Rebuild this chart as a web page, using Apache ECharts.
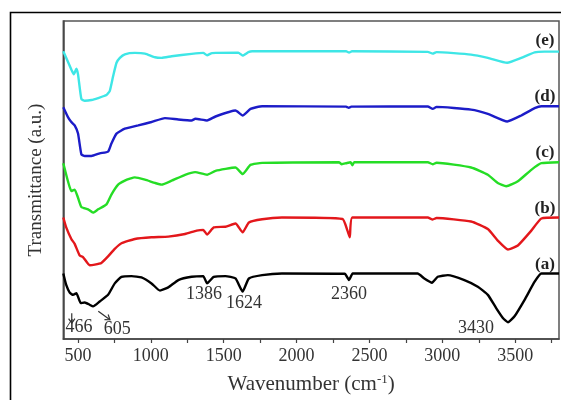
<!DOCTYPE html>
<html>
<head>
<meta charset="utf-8">
<script src="https://cdn.jsdelivr.net/npm/echarts@6/dist/echarts.min.js"></script>
<style>html,body{margin:0;padding:0;background:#fff}#c{width:561px;height:400px}</style>
</head>
<body>
<div id="c"></div>
<script>
// Wavenumber (cm-1) and transmittance (arbitrary units, offset) for each spectrum
var wnA = [400,420,444,467,490,520,547,581,604,650,707,753,799,868,936,1005,1063,1120,1189,1280,1360,1386,1432,1512,1581,1630,1673,1764,1900,2330,2360,2385,2830,2876,2929,2968,3037,3151,3243,3312,3369,3415,3450,3495,3564,3633,3679,3800];
var tA  = [66.3,54.7,47,44.7,46.3,36.3,37,34.7,33,38,44.7,56.3,63,63.7,62.3,56.3,49,52.3,59.7,63,63.7,56.3,63,63.7,61.3,48,61.3,64.7,66.3,66,59.7,66.3,66.3,61.3,57,63,64.7,59.7,53,44.7,31.3,21.3,17,23,39.7,58,66.3,66.3];

var wnB = [400,420,455,478,512,535,581,616,661,707,753,799,891,1005,1120,1235,1315,1360,1386,1432,1512,1581,1630,1673,1764,1900,2315,2349,2365,2383,2900,2934,2960,3197,3312,3380,3450,3518,3610,3679,3800];
var tB  = [123,113,101.3,96.3,84.7,83,74.7,75.3,77,83.7,91.3,97,101.3,103,103.7,106.3,109.7,110.5,105.7,113,113.7,117,108,118,121.3,123,121.5,109.7,103,123,123,121,122.5,119,111.3,99.7,90.7,94.7,109.7,122,123];

var wnC = [400,432,455,478,501,524,570,604,639,696,730,776,822,857,891,960,1029,1074,1143,1235,1304,1386,1444,1581,1630,1684,1764,2290,2310,2340,2370,2383,2395,2900,2934,2960,3197,3312,3380,3438,3518,3610,3679,3800];
var tC  = [178,159.7,149.7,151.3,143,133.7,131.3,128,131.3,136.3,146.3,156.3,160.3,162.3,163.7,161.3,158,156.3,160.3,166.3,169,166.3,170.3,173.7,167,176.3,178.3,179,177,178,179,176,179,179,177,178.5,173.7,166.3,158,154.7,159.7,171.3,178,179];

var wnD = [400,432,455,478,501,524,547,593,650,707,730,765,822,914,1005,1097,1189,1280,1306,1386,1444,1581,1630,1684,1764,2340,2358,2375,2900,2934,2960,3197,3312,3445,3541,3633,3679,3800];
var tD  = [234.7,224.7,219.7,216.3,208,187,185.3,185.3,188,189.7,198,208,213,216.3,219.7,223.7,222.3,221.3,223,221.3,225.3,231.3,226.3,233,235.7,235.3,234,235.3,235.5,233,235,232.3,228,220.3,226.3,233.7,235.7,235.7];

var wnE = [400,455,472,490,501,524,547,593,639,696,719,742,765,788,822,891,960,1029,1074,1143,1280,1360,1386,1420,1600,1630,1670,1696,2340,2360,2380,2900,2934,2960,3197,3312,3445,3541,3633,3700,3800];
var tE  = [291.3,273,268,273.7,268,243,241.3,242,244,247,251.3,266.3,279.7,284.7,288.3,289.7,289,285.3,284.7,286.3,288.7,289.7,287.3,289.5,290,287,290.5,291.3,291.3,290,291.3,290.7,289,290.5,288,284.7,279.7,284.7,290.3,291,291];

var seriesNames  = ['(a)','(b)','(c)','(d)','(e)'];
var seriesColors = ['#000000','#e3171b','#25dd25','#1c1cc8','#3ee6e6'];
var seriesWn = [wnA,wnB,wnC,wnD,wnE];
var seriesT  = [tA,tB,tC,tD,tE];

// curve labels position (wavenumber, transmittance)
var curveLabelWn = 3704;
var curveLabelT  = [75.7,132.3,189,245.7,302.3];

// peak annotations
var peakText = ['466','605','1386','1624','2360','3430'];
var peakWn   = [508,770,1365,1639,2359,3230];
var peakT    = [12,9.5,45,36,45,11];

var majorTicks = [500,1000,1500,2000,2500,3000,3500];
var allTicks = [500,750,1000,1250,1500,1750,2000,2250,2500,2750,3000,3250,3500,3750];

function pairs(xs, ys){ var o=[]; for(var i=0;i<xs.length;i++) o.push([xs[i],ys[i]]); return o; }

var chart = echarts.init(document.getElementById('c'));
var series = seriesNames.map(function(n,i){
  return {
    name:n, type:'line', data:pairs(seriesWn[i],seriesT[i]),
    showSymbol:false, smooth:0.15, silent:true, animation:false,
    lineStyle:{color:seriesColors[i], width:2.4}, itemStyle:{color:seriesColors[i]}
  };
});

chart.setOption({
  animation:false,
  grid:{left:63.3, right:2, top:21, bottom:57, show:true, borderColor:'#555', borderWidth:1.5, backgroundColor:'transparent'},
  xAxis:{
    type:'value', min:400, max:3800,
    name:'{a|Wavenumber (cm}{s|-1}{a|)}', nameLocation:'middle', nameGap:34,
    nameTextStyle:{rich:{
      a:{fontFamily:'Liberation Serif', fontSize:21, color:'#333'},
      s:{fontFamily:'Liberation Serif', fontSize:13, color:'#333', verticalAlign:'top', padding:[0,0,10,0]}
    }},
    axisLine:{show:true, onZero:false, lineStyle:{color:'#444', width:1.5}},
    axisTick:{show:true, inside:false, length:4, customValues:allTicks, lineStyle:{color:'#444', width:1.2}},
    axisLabel:{customValues:majorTicks, formatter:function(v){return String(v);}, fontFamily:'Liberation Serif', fontSize:18, color:'#333', margin:8},
    splitLine:{show:false}
  },
  yAxis:{
    type:'value', min:0, max:322,
    name:'Transmittance (a.u.)', nameLocation:'middle', nameGap:18, nameRotate:90,
    nameTextStyle:{fontFamily:'Liberation Serif', fontSize:19, color:'#333'},
    axisLine:{show:true, lineStyle:{color:'#444', width:1.5}},
    axisTick:{show:false}, axisLabel:{show:false}, splitLine:{show:false}
  },
  series:series
});

var g = [];
g.push({type:'rect', shape:{x:10.5,y:12.5,width:620,height:500}, style:{fill:'none', stroke:'#000', lineWidth:1.6}, silent:true});
for (var i=0;i<seriesNames.length;i++){
  var p = chart.convertToPixel({gridIndex:0},[curveLabelWn, curveLabelT[i]]);
  g.push({type:'text', x:p[0], y:p[1], silent:true,
    style:{text:seriesNames[i], fill:'#222', font:'bold 17px "Liberation Serif"', align:'center', verticalAlign:'middle'}});
}
for (var j=0;j<peakText.length;j++){
  var q = chart.convertToPixel({gridIndex:0},[peakWn[j], peakT[j]]);
  g.push({type:'text', x:q[0], y:q[1], silent:true,
    style:{text:peakText[j], fill:'#333', font:'18px "Liberation Serif"', align:'center', verticalAlign:'middle'}});
}
// arrows pointing to 466 and 605 features
var a1 = chart.convertToPixel({gridIndex:0},[458, 26]);
var a1e = chart.convertToPixel({gridIndex:0},[458, 16]);
var a2 = chart.convertToPixel({gridIndex:0},[640, 28]);
var a2e = chart.convertToPixel({gridIndex:0},[720, 19.5]);
function arrow(s,e){
  var dx=e[0]-s[0], dy=e[1]-s[1], L=Math.sqrt(dx*dx+dy*dy), ux=dx/L, uy=dy/L, h=4.5;
  var l = [e[0]-h*ux+h*0.7*uy, e[1]-h*uy-h*0.7*ux];
  var r = [e[0]-h*ux-h*0.7*uy, e[1]-h*uy+h*0.7*ux];
  g.push({type:'line', shape:{x1:s[0],y1:s[1],x2:e[0],y2:e[1]}, style:{stroke:'#333', lineWidth:1.2}, silent:true});
  g.push({type:'polyline', shape:{points:[l,e,r]}, style:{stroke:'#333', lineWidth:1.2, fill:'none'}, silent:true});
}
arrow(a1,a1e);
arrow(a2,a2e);
chart.setOption({graphic:g});
</script>
</body>
</html>
